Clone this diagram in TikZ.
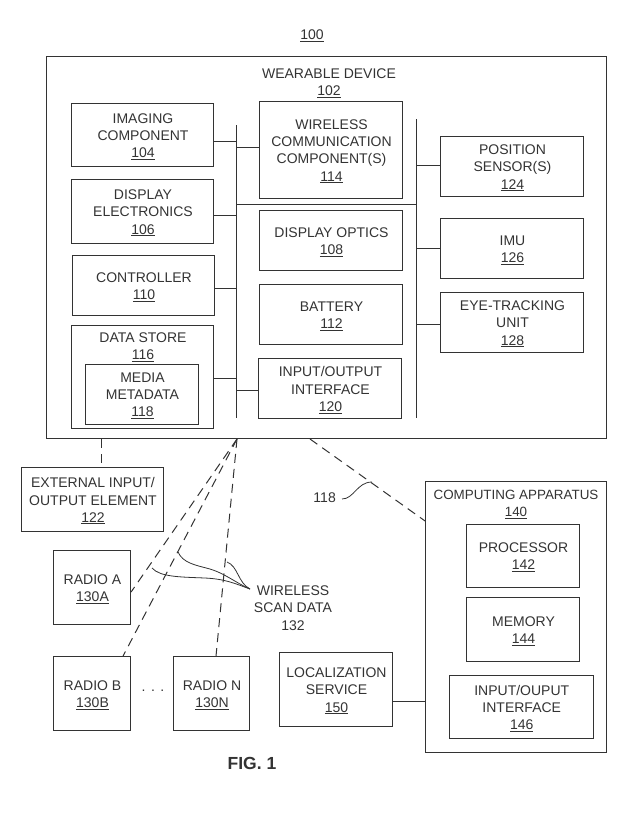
\documentclass[tikz,border=0pt]{standalone}
\usepackage{fontspec}
\setmainfont{Liberation Sans}
\definecolor{ink}{gray}{0.2}
\newcommand{\ul}[1]{\underline{#1}}
\tikzset{
  boxed/.style={draw=ink,line width=1pt,rectangle,inner sep=0pt},
  lbl/.style={inner sep=0pt,align=center,text=ink,font=\fontsize{14}{17.2}\selectfont},
  link/.style={draw=ink,line width=1pt},
  dashlink/.style={draw=ink,line width=1pt,dash pattern=on 9pt off 6pt},
  lead/.style={draw=ink,line width=0.8pt}
}
% name, x1, y1, x2, y2, text
\newcommand{\bx}[6]{\node[boxed,minimum width=#4pt-#2pt,minimum height=#5pt-#3pt] (#1) at ({(#2+#4)/2-0.4},{(#3+#5)/2-0.4}) {};
  \node[lbl] (#1text) at ({(#2+#4)/2},{(#3+#5)/2+1.0}) {#6};}
\begin{document}
\begin{tikzpicture}[x=1pt,y=-1pt]
\useasboundingbox (0,0) rectangle (643,823);
\node[lbl] (t100) at (312,35.5) {\ul{100}};
\bx{wearable}{47}{57}{607}{439}{}
\node[lbl] (twear) at (329,83.5) {WEARABLE DEVICE\\\ul{102}};
\bx{imaging}{72}{104}{214}{167}{IMAGING\\COMPONENT\\\ul{104}}
\bx{dispel}{72}{180}{214}{244}{DISPLAY\\ELECTRONICS\\\ul{106}}
\bx{controller}{73}{256}{215}{316}{CONTROLLER\\\ul{110}}
\bx{datastore}{72}{326}{214}{429}{}
\node[lbl] (tstore) at (143,347.5) {DATA STORE\\\ul{116}};
\bx{media}{86}{365}{199}{425}{MEDIA\\METADATA\\\ul{118}}
\bx{wireless}{260}{102}{403}{199}{WIRELESS\\COMMUNICATION\\COMPONENT(S)\\\ul{114}}
\bx{optics}{260}{211}{403}{271}{DISPLAY OPTICS\\\ul{108}}
\bx{battery}{260}{285}{403}{345}{BATTERY\\\ul{112}}
\bx{ioint}{259}{359}{402}{419}{INPUT/OUTPUT\\INTERFACE\\\ul{120}}
\bx{position}{441}{137}{584}{197}{POSITION\\SENSOR(S)\\\ul{124}}
\bx{imu}{441}{219}{584}{279}{IMU\\\ul{126}}
\bx{eye}{441}{293}{584}{353}{EYE-TRACKING\\UNIT\\\ul{128}}
\bx{external}{22}{468}{164}{532}{EXTERNAL INPUT/\\OUTPUT ELEMENT\\\ul{122}}
\bx{radioa}{54}{551}{131}{625}{RADIO A\\\ul{130A}}
\bx{radiob}{54}{657}{131}{731}{RADIO B\\\ul{130B}}
\bx{radion}{174}{657}{250}{731}{RADIO N\\\ul{130N}}
\bx{local}{280}{653}{393}{727}{LOCALIZATION\\SERVICE\\\ul{150}}
\bx{computing}{426}{482}{607}{753}{}
\node[lbl,font=\fontsize{13.4}{17.2}\selectfont] (tcomp) at (516,504) {COMPUTING APPARATUS\\\ul{140}};
\bx{processor}{467}{525}{580}{588}{PROCESSOR\\\ul{142}}
\bx{memory}{467}{598}{580}{662}{MEMORY\\\ul{144}}
\bx{compio}{450}{676}{593.5}{739}{INPUT/OUPUT\\INTERFACE\\\ul{146}}
\node[lbl] (dots) at (153,691) {.\hspace{5.5pt}.\hspace{5.5pt}.};
\node[lbl] (twire) at (293,608) {WIRELESS\\SCAN DATA\\132};
\node[lbl,anchor=east] (t118) at (336,498) {118};
\node[inner sep=0pt,text=ink,font=\bfseries\fontsize{17.5}{20}\selectfont] (fig) at (252,763) {FIG. 1};
% buses
\coordinate (busltop) at (236.6,125);
\coordinate (buslbot) at (236.6,418);
\coordinate (busrtop) at (416.6,119);
\coordinate (busrbot) at (416.6,418);
\draw[link] (busltop) -- (buslbot);
\draw[link] (busrtop) -- (busrbot);
\draw[link] (236.6,204) coordinate (jl) -- (jl -| busrtop);
% left connectors
\draw[link] (imaging.east |- 0,141) -- (busltop |- 0,141);
\draw[link] (dispel.east |- 0,215) -- (busltop |- 0,215);
\draw[link] (controller.east |- 0,288) -- (busltop |- 0,288);
\draw[link] (datastore.east |- 0,378) -- (busltop |- 0,378);
\draw[link] (busltop |- 0,147) -- (wireless.west |- 0,147);
\draw[link] (busltop |- 0,390) -- (ioint.west |- 0,390);
% right connectors
\draw[link] (busrtop |- 0,165) -- (position.west |- 0,165);
\draw[link] (busrtop |- imu.west) -- (imu.west);
\draw[link] (busrtop |- 0,324) -- (eye.west |- 0,324);
\draw[link] (local.east |- 0,701) -- (computing.west |- 0,701);
% dashed
\coordinate (hub) at (237,439);
\draw[dashlink] (101,439) -- (external.north -| 101,0);
\draw[dashlink] (hub) -- (radioa.east |- 0,592);
\draw[dashlink] (hub) -- (radiob.north -| 123,0);
\draw[dashlink] (hub) -- (radion.north -| 216,0);
\coordinate (w118) at (310,439);
\draw[dashlink] (w118) -- (computing.west |- 0,521);
% leaders
\draw[lead] (t118.east) ++(6,1) .. controls (354,499) and (357,482) .. (372,482);
\coordinate (wsrc) at (250,589);
\draw[lead] (wsrc) .. controls (236,584) and (226,579) .. (205,578) .. controls (180,577) and (160,577) .. (152,568);
\draw[lead] (wsrc) .. controls (236,583) and (226,574) .. (210,569) .. controls (195,565) and (183,563) .. (178,552);
\draw[lead] (wsrc) .. controls (238,583) and (238,566) .. (227,562);
\end{tikzpicture}
\end{document}
